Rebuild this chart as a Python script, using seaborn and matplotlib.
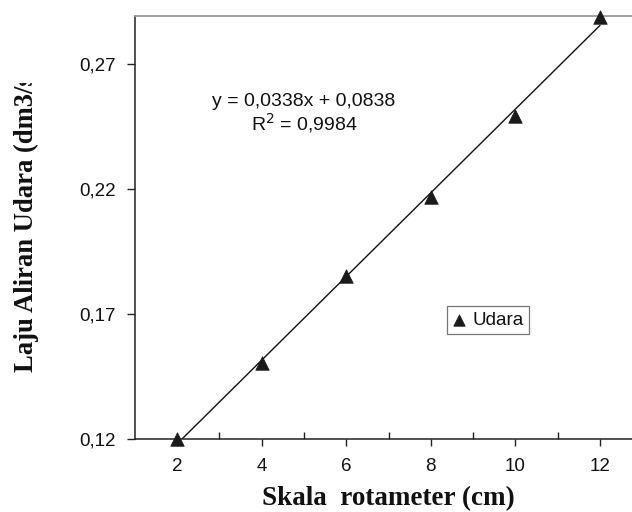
import numpy as np
import pandas as pd
import matplotlib
matplotlib.use("Agg")
import matplotlib.pyplot as plt
from matplotlib.ticker import FuncFormatter, FixedLocator
from matplotlib.transforms import Bbox
import seaborn as sns

# Data
skala = [2, 4, 6, 8, 10, 12]
laju = [0.1200, 0.1504, 0.1852, 0.2168, 0.2492, 0.2888]
series_name = "Udara"
eq_text = "y = 0,0338x + 0,0838\nR$^2$ = 0,9984"
xlabel = "Skala  rotameter (cm)"
ylabel = "Laju Aliran Udara (dm3/s)"
yticks = [0.12, 0.17, 0.22, 0.27]
xticks = [2, 4, 6, 8, 10, 12]

df = pd.DataFrame({"x": skala, "y": laju})

sns.set_theme(style="white")
plt.rcParams['font.family'] = ['Liberation Sans', 'DejaVu Sans']

W, H = 632, 512
fig = plt.figure(figsize=(W / 100, H / 100), dpi=100)
left, right, top, bottom = 135, 632, 16, 439
ax = fig.add_axes([left / W, 1 - bottom / H, (right - left) / W, (bottom - top) / H])

# trendline
sns.regplot(data=df, x="x", y="y", ax=ax, scatter=False, ci=None, truncate=True,
            line_kws=dict(color="#111111", lw=1.0))
# markers
sns.scatterplot(data=df, x="x", y="y", ax=ax, marker="^", s=95, color="#1a1a1a",
                edgecolor="#1a1a1a", linewidth=0.5, label=series_name, zorder=5, clip_on=False)

px_per_x = (600 - 177) / 10.0
x0 = 2 - (177 - left) / px_per_x
x1 = 12 + (right - 600) / px_per_x
ax.set_xlim(x0, x1)
ax.set_ylim(0.12, 0.12 + (bottom - top) / 2500.0)

ax.xaxis.set_major_locator(FixedLocator(xticks))
ax.xaxis.set_minor_locator(FixedLocator([3, 5, 7, 9, 11, 13]))
ax.yaxis.set_major_locator(FixedLocator(yticks))
ax.yaxis.set_major_formatter(FuncFormatter(lambda v, p: f"{v:.2f}".replace('.', ',')))
ax.xaxis.set_major_formatter(FuncFormatter(lambda v, p: f"{v:g}"))

tfs = 13.5
ax.tick_params(axis='x', which='major', direction='out', length=5, width=1, color='#222222',
               labelsize=tfs, pad=9, labelcolor='#111111', bottom=True)
ax.tick_params(axis='x', which='minor', direction='in', length=5, width=1, color='#222222', bottom=True)
ax.tick_params(axis='y', which='major', direction='out', length=6, width=1, color='#222222',
               labelsize=tfs, pad=8, labelcolor='#111111', left=True)

for s in ['left', 'bottom']:
    ax.spines[s].set_color('#222222')
    ax.spines[s].set_linewidth(1.1)
ax.spines['top'].set_color('#999999')
ax.spines['top'].set_linewidth(1.3)
ax.spines['right'].set_visible(False)
ax.grid(False)
ax.set_xlabel("")
ax.set_ylabel("")

# equation text
ax.text(304 / W, 1 - 114 / H, eq_text, transform=fig.transFigure, ha='center', va='center',
        fontsize=14, color='#111111', linespacing=1.05, multialignment='center')

# legend
leg = ax.legend(loc='center', bbox_to_anchor=(488 / W, 1 - 320 / H), bbox_transform=fig.transFigure,
                fancybox=False, frameon=True, edgecolor='#555555', fontsize=tfs,
                handlelength=0.7, handletextpad=0.35, borderpad=0.3, borderaxespad=0,
                markerscale=0.85)
leg.get_frame().set_linewidth(0.9)
for t in leg.get_texts():
    t.set_color('#111111')

# axis titles
fig.text(388 / W, 1 - 505 / H, xlabel, ha='center', va='baseline', fontsize=19.5,
         fontweight='bold', family=['Liberation Serif', 'DejaVu Serif'], color='#111111')
yl = fig.text(33 / W, 1 - 372 / H, ylabel, ha='left', va='baseline', rotation=90,
              rotation_mode='anchor', fontsize=19.2, fontweight='bold',
              family=['Liberation Serif', 'DejaVu Serif'], color='#111111')
yl.set_clip_box(Bbox([[0, 0], [W, H - 83]]))
yl.set_clip_on(True)

fig.savefig("out.png", dpi=100)
